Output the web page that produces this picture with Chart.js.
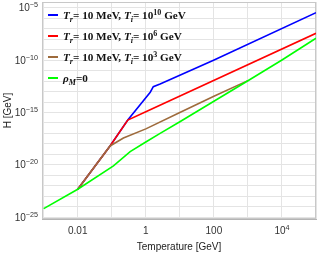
<!DOCTYPE html>
<html>
<head>
<meta charset="utf-8">
<script src="https://cdn.jsdelivr.net/npm/chart.js@4.4.1/dist/chart.umd.min.js"></script>
<style>
  html, body { margin: 0; padding: 0; background: #fff; }
  canvas { display: block; }
</style>
</head>
<body>
<canvas id="hubbleChart" width="318" height="253"></canvas>
<script>
// values (T in GeV, H in GeV)
const tempGreen = [1e-3, 0.01, 0.112, 0.347, 1, 2.63, 10, 100, 1000, 1e4, 1e5];
const hubbleGreen = [6.3e-25, 4.5e-23, 7.9e-21, 1.8e-19, 1.5e-18, 1.0e-17, 1.3e-16, 1.2e-14, 1.1e-12, 1.05e-10, 1.26e-8];

const tempBrown = [0.01, 0.089, 0.22, 1, 10, 100, 1000];
const hubbleBrown = [4.5e-23, 6.3e-19, 3.6e-18, 2.7e-17, 1.0e-15, 3.5e-14, 1.12e-12];

const tempRed = [0.01, 0.089, 0.295, 1, 1e5];
const hubbleRed = [4.5e-23, 6.3e-19, 1.9e-16, 1.17e-15, 3.8e-8];

const tempBlue = [0.01, 0.089, 0.295, 1.35, 1.66, 2.63, 97.7, 1e5];
const hubbleBlue = [4.5e-23, 6.3e-19, 1.9e-16, 8.7e-14, 2.95e-13, 5.4e-13, 1.0e-10, 3.5e-6];

const seriesLabels = [
  '*T*_{r}= 10 MeV, *T*_{i}= 10^{10} GeV',
  '*T*_{r}= 10 MeV, *T*_{i}= 10^{6} GeV',
  '*T*_{r}= 10 MeV, *T*_{i}= 10^{3} GeV',
  '*ρ*_{M}=0'
];
const seriesColors = ['#0000ff', '#ff0000', '#9e6b3c', '#00ff00'];

const xDecades = [-3, -2, -1, 0, 1, 2, 3, 4, 5];
const xLabelTicks = [0.01, 1, 100, 1e4];
const xLabelText = ['0.01', '1', '100', '10^{4}'];

const yDecades = [];
for (let e = -25; e <= -5; e++) yDecades.push(e);
const yLabelTicks = [1e-25, 1e-20, 1e-15, 1e-10, 1e-5];
const yLabelText = ['10^{−25}', '10^{−20}', '10^{−15}', '10^{−10}', '10^{−5}'];

const toPoints = (xs, ys) => xs.map((x, i) => ({ x, y: ys[i] }));

// split '*T*_{r}= 10^{6} GeV' into styled pieces
function parseRich(str) {
  const re = /(_\{[^}]*\}|\^\{[^}]*\}|\*[^*]+\*|[^_^*]+)/g;
  const parts = [];
  let m;
  while ((m = re.exec(str))) {
    const s = m[0];
    if (s[0] === '_') parts.push({ text: s.slice(2, -1), kind: 'sub' });
    else if (s[0] === '^') parts.push({ text: s.slice(2, -1), kind: 'sup' });
    else if (s[0] === '*') parts.push({ text: s.slice(1, -1), kind: 'italic' });
    else parts.push({ text: s, kind: 'normal' });
  }
  return parts;
}

function fontFor(kind, size, family, weight) {
  const w = weight ? weight + ' ' : '';
  if (kind === 'sub') return `italic ${w}${size * 0.72}px ${family}`;
  if (kind === 'sup') return `${w}${size * 0.72}px ${family}`;
  if (kind === 'italic') return `italic ${w}${size}px ${family}`;
  return `${w}${size}px ${family}`;
}

function richWidth(ctx, parts, size, family, weight) {
  let w = 0;
  parts.forEach(p => {
    ctx.font = fontFor(p.kind, size, family, weight);
    w += ctx.measureText(p.text).width;
  });
  return w;
}

// draws a rich string with its baseline at y
function drawRich(ctx, parts, x, y, size, family, weight, subDy, supDy) {
  parts.forEach(p => {
    ctx.font = fontFor(p.kind, size, family, weight);
    let dy = 0;
    if (p.kind === 'sub') dy = subDy;
    if (p.kind === 'sup') dy = supDy;
    ctx.fillText(p.text, x, y + dy);
    x += ctx.measureText(p.text).width;
  });
}

const sans = '"Liberation Sans", Arial, sans-serif';
const serif = '"Liberation Serif", "DejaVu Serif", serif';

const tickLabelPlugin = {
  id: 'tickLabels',
  afterDraw(chart) {
    const ctx = chart.ctx;
    const xs = chart.scales.x;
    const ys = chart.scales.y;
    const size = 10;
    ctx.save();
    ctx.fillStyle = '#333';
    ctx.textBaseline = 'alphabetic';
    ctx.textAlign = 'left';
    xLabelTicks.forEach((v, i) => {
      const parts = parseRich(xLabelText[i]);
      const w = richWidth(ctx, parts, size, sans, '');
      const px = xs.getPixelForValue(v);
      drawRich(ctx, parts, px - w / 2, 234, size, sans, '', 0, -4);
    });
    yLabelTicks.forEach((v, i) => {
      const parts = parseRich(yLabelText[i]);
      const w = richWidth(ctx, parts, size, sans, '');
      const py = ys.getPixelForValue(v);
      drawRich(ctx, parts, 38 - w, py + 3.5, size, sans, '', 0, -4);
    });
    ctx.restore();
  }
};

const legendPlugin = {
  id: 'richLegend',
  afterDraw(chart) {
    const ctx = chart.ctx;
    ctx.save();
    seriesLabels.forEach((label, i) => {
      const y = 15 + i * 21;
      ctx.strokeStyle = seriesColors[i];
      ctx.lineWidth = 2;
      ctx.beginPath();
      ctx.moveTo(48, y);
      ctx.lineTo(58, y);
      ctx.stroke();

      ctx.fillStyle = '#111';
      ctx.textBaseline = 'alphabetic';
      ctx.textAlign = 'left';
      drawRich(ctx, parseRich(label), 63, y + 4, 11.2, serif, 'bold', 2.5, -4.5);
    });
    ctx.restore();
  }
};

const framePlugin = {
  id: 'frame',
  beforeDatasetsDraw(chart) {
    const { left, right, top, bottom } = chart.chartArea;
    const ctx = chart.ctx;
    ctx.save();
    ctx.strokeStyle = '#c8c8c8';
    ctx.lineWidth = 1;
    ctx.strokeRect(left + 0.5, top + 0.5, right - left - 1, bottom - top - 1);
    ctx.restore();
  }
};

const ctx = document.getElementById('hubbleChart').getContext('2d');

new Chart(ctx, {
  type: 'line',
  data: {
    datasets: [
      { data: toPoints(tempGreen, hubbleGreen), borderColor: seriesColors[3] },
      { data: toPoints(tempBrown, hubbleBrown), borderColor: seriesColors[2] },
      { data: toPoints(tempRed, hubbleRed), borderColor: seriesColors[1] },
      { data: toPoints(tempBlue, hubbleBlue), borderColor: seriesColors[0] },
    ].map(ds => ({ ...ds, borderWidth: 1.6, pointRadius: 0, tension: 0, fill: false })),
  },
  options: {
    responsive: false,
    animation: false,
    devicePixelRatio: 1,
    layout: { padding: { top: 2, right: 2, left: 0, bottom: 0 } },
    plugins: {
      legend: { display: false },
      tooltip: { enabled: false },
    },
    scales: {
      x: {
        type: 'logarithmic',
        min: Math.pow(10, -3.05),
        max: 1e5,
        afterBuildTicks: scale => {
          scale.ticks = xDecades.map(e => ({ value: Math.pow(10, e) }));
        },
        afterFit: scale => { scale.height = 34; },
        grid: { color: '#e4e4e4', drawTicks: false },
        border: { color: '#b4b4b4' },
        ticks: { display: false },
        title: {
          display: true,
          text: 'Temperature [GeV]',
          color: '#222',
          padding: { top: 0, bottom: 0 },
          font: { family: sans, size: 10 },
        },
      },
      y: {
        type: 'logarithmic',
        min: Math.pow(10, -25.19),
        max: Math.pow(10, -4.43),
        afterBuildTicks: scale => {
          scale.ticks = yDecades.map(e => ({ value: Math.pow(10, e) }));
        },
        afterFit: scale => { scale.width = 42; },
        grid: { color: '#e4e4e4', drawTicks: false },
        border: { color: '#b4b4b4' },
        ticks: { display: false },
        title: {
          display: true,
          text: 'H [GeV]',
          color: '#222',
          padding: { top: 2, bottom: 0 },
          font: { family: sans, size: 10 },
        },
      },
    },
  },
  plugins: [framePlugin, tickLabelPlugin, legendPlugin],
});
</script>
</body>
</html>
